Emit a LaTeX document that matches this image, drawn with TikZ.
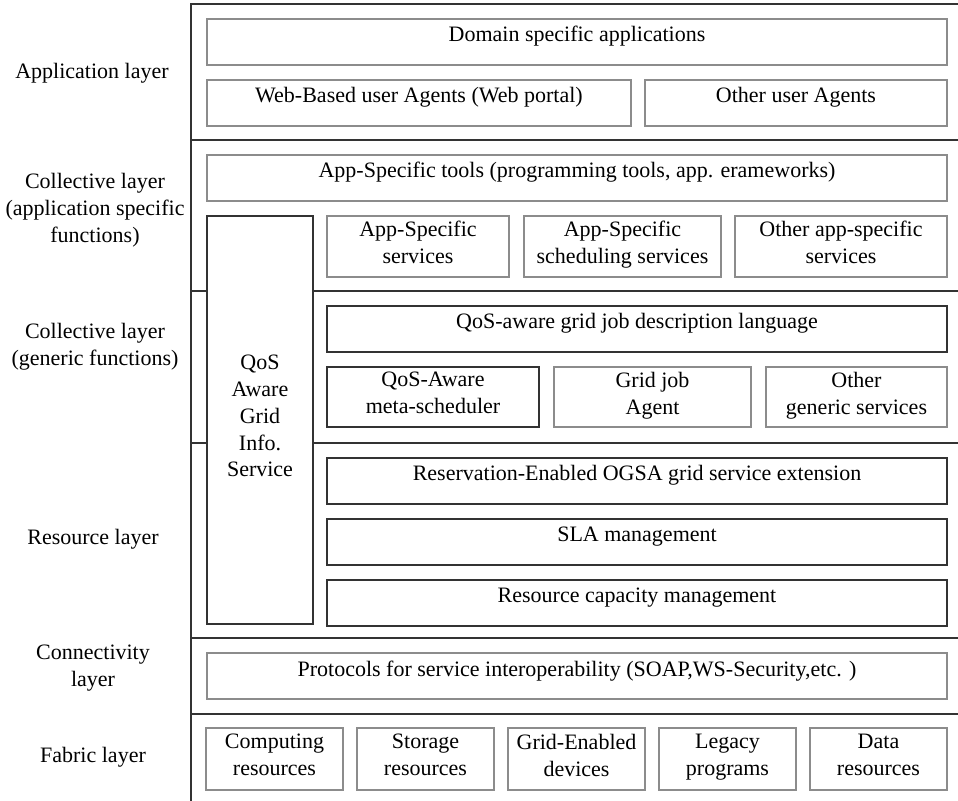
\documentclass[tikz,border=0pt]{standalone}
\usepackage{fontspec}
\setmainfont{Liberation Serif}
\usetikzlibrary{positioning}
\definecolor{linedark}{HTML}{333333}
\definecolor{boxgray}{HTML}{8C8C8C}

\tikzset{
  sep/.style={draw=linedark, line width=1pt},
  gbox/.style={draw=boxgray, line width=0.75pt, rectangle, inner sep=0pt, outer sep=0pt, align=center,
    execute at begin node=\strut, execute at end node=\strut},
  dbox/.style={gbox, draw=linedark},
  oneline/.style={minimum height=23pt, text height=8pt, text depth=8pt},
  twoline/.style={minimum height=30.5pt},
  lbl/.style={align=center}
}

\begin{document}
\begin{tikzpicture}[x=0.5pt, y=-0.5pt, font=\fontsize{11}{13.4}\selectfont]
\useasboundingbox (0,0) rectangle (958,801);

% layer borders
\draw[sep] (958,4) -- (191,4) -- (191,801);
\draw[sep] (191,140) -- (958,140);
\draw[sep] (191,291) -- (207,291) (313,291) -- (958,291);
\draw[sep] (191,443) -- (207,443) (313,443) -- (958,443);
\draw[sep] (191,638) -- (958,638);
\draw[sep] (191,714) -- (958,714);

% layer names
\node[lbl] (l_app)    at (92,73)  {Application layer};
\node[lbl] (l_coll_a) at (95,210) {Collective layer\\(application specific\\functions)};
\node[lbl] (l_coll_g) at (95,347) {Collective layer\\(generic functions)};
\node[lbl] (l_res)    at (93,539) {Resource layer};
\node[lbl] (l_conn)   at (93,668) {Connectivity\\layer};
\node[lbl] (l_fab)    at (93,757) {Fabric layer};

% application layer
\node[gbox, oneline, minimum width=370pt, anchor=north west] (dom_app) at (207,19) {Domain specific applications};
\node[gbox, oneline, minimum width=212pt, below=7.5pt of dom_app.south west, anchor=north west] (web_ag) {Web-Based user Agents (Web portal)};
\node[gbox, oneline, minimum width=151pt, right=7pt of web_ag] (oth_ag) {Other user Agents};

% collective layer (application specific)
\node[gbox, oneline, minimum width=370pt, anchor=north west] (app_tools) at (207,155) {App-Specific tools (programming tools, app. erameworks)};
\node[dbox, minimum width=53pt, minimum height=204pt, anchor=north west] (qos_info) at (207,216) {QoS\\Aware\\Grid\\Info.\\Service};
\node[gbox, twoline, minimum width=91pt, right=7pt of qos_info.north east, anchor=north west] (app_srv) {App-Specific\\services};
\node[gbox, twoline, minimum width=98.5pt, right=7.5pt of app_srv] (app_sched) {App-Specific\\scheduling services};
\node[gbox, twoline, minimum width=106pt, right=7pt of app_sched] (app_oth) {Other app-specific\\services};

% collective layer (generic)
\node[dbox, oneline, minimum width=310pt, anchor=north west] (qos_jdl) at (327,306) {QoS-aware grid job description language};
\node[dbox, minimum width=106pt, minimum height=30pt, below=7.5pt of qos_jdl.south west, anchor=north west] (meta_sch) {QoS-Aware\\meta-scheduler};
\node[gbox, minimum width=98.5pt, minimum height=30pt, right=7.5pt of meta_sch] (job_ag) {Grid job\\Agent};
\node[gbox, minimum width=90.5pt, minimum height=30pt, right=7.5pt of job_ag] (gen_oth) {Other\\generic services};

% resource layer
\node[dbox, oneline, minimum width=310pt, anchor=north west] (resv_ext) at (327,458) {Reservation-Enabled OGSA grid service extension};
\node[dbox, oneline, minimum width=310pt, below=7.5pt of resv_ext] (sla_mgmt) {SLA management};
\node[dbox, oneline, minimum width=310pt, below=7.5pt of sla_mgmt] (cap_mgmt) {Resource capacity management};

% connectivity layer
\node[gbox, oneline, minimum width=370pt, anchor=north west] (proto) at (207,653) {Protocols for service interoperability (SOAP,WS-Security,etc. )};

% fabric layer
\node[gbox, minimum width=68.5pt, minimum height=31pt, anchor=north west] (fab_comp) at (206,728) {Computing\\resources};
\node[gbox, minimum width=68.5pt, minimum height=31pt, right=7pt of fab_comp] (fab_stor) {Storage\\resources};
\node[gbox, minimum width=68.5pt, minimum height=31pt, right=7pt of fab_stor] (fab_dev) {Grid-Enabled\\devices};
\node[gbox, minimum width=68.5pt, minimum height=31pt, right=7pt of fab_dev] (fab_leg) {Legacy\\programs};
\node[gbox, minimum width=68.5pt, minimum height=31pt, right=7pt of fab_leg] (fab_data) {Data\\resources};
\end{tikzpicture}
\end{document}
